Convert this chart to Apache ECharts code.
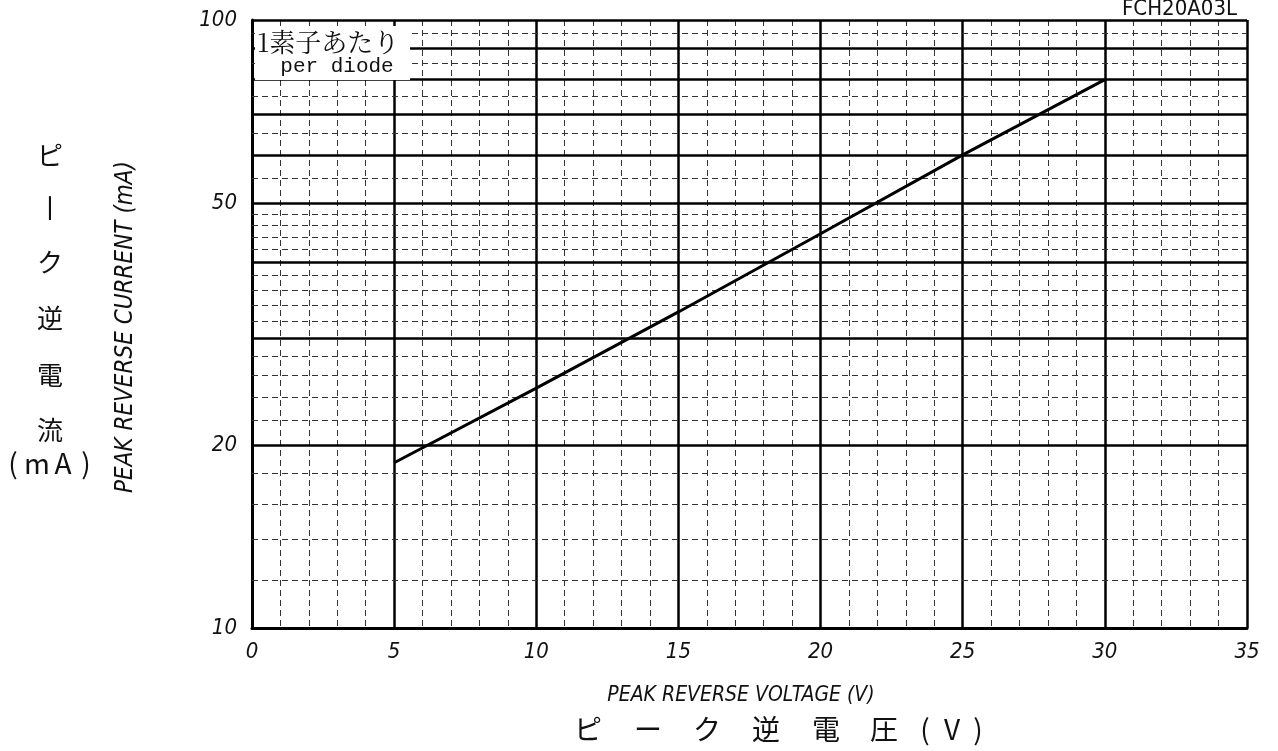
<!DOCTYPE html>
<html>
<head>
<meta charset="utf-8">
<script src="https://cdn.jsdelivr.net/npm/echarts@6/dist/echarts.min.js"></script>
<style>
html,body{margin:0;padding:0;background:#fff;}
#chart{width:1278px;height:751px;}
</style>
</head>
<body>
<div id="chart"></div>
<script>
// ---- data ----
var voltage = [5, 10, 15, 20, 25, 30];
var current = [18.7, 24.8, 33.1, 44.5, 60.0, 79.8];
var majorY = [10, 20, 30, 40, 50, 60, 70, 80, 90, 100];
var minorY = [12, 14, 16, 18, 22, 24, 26, 28, 32, 34, 36, 38, 42, 44, 46, 48, 55, 65, 75, 85, 95];
var yTickLabels = [10, 20, 50, 100];
var xTickLabels = [0, 5, 10, 15, 20, 25, 30, 35];

var NARROW = '"Liberation Sans Narrow", "DejaVu Sans Condensed", "Liberation Sans", sans-serif';
var JP = '"Noto Sans CJK JP", sans-serif';
var chart = echarts.init(document.getElementById('chart'), null, {renderer: 'canvas'});

var graphics = [];
function txt(s, x, y, font, align, z) {
  graphics.push({type: 'text', x: x, y: y, z: z || 50,
    style: {text: s, font: font, fill: '#111', textAlign: align || 'center', textVerticalAlign: 'middle'}});
}
// vertical Japanese y-axis title
var jpY = ['ピ', '丨', 'ク', '逆', '電', '流'];
var jpYpos = [155, 208, 262, 318, 375, 430];
jpY.forEach(function (c, i) { txt(c, 50, jpYpos[i], '26px ' + JP); });
var mA = ['(', 'm', 'A', ')'];
var mAx = [13, 37, 63, 86];
mA.forEach(function (c, i) { txt(c, mAx[i], 463, '28px ' + JP); });
// English y-axis title
graphics.push({type: 'text', x: 126, y: 327, rotation: Math.PI / 2, z: 50,
  style: {text: 'PEAK REVERSE CURRENT (mA)', font: 'italic 24px ' + NARROW, fill: '#111',
    textAlign: 'center', textVerticalAlign: 'middle'}});
// x-axis titles
txt('PEAK REVERSE VOLTAGE (V)', 741, 696, 'italic 21px ' + NARROW);
var jpX = ['ピ', 'ー', 'ク', '逆', '電', '圧', '(', 'V', ')'];
var jpXpos = [588, 648, 707, 766, 826, 884, 925, 952, 978];
jpX.forEach(function (c, i) { txt(c, jpXpos[i], 729, '28px ' + JP); });
// part number
txt('FCH20A03L', 1237, 9, '22px ' + NARROW, 'right');
// note box
graphics.push({type: 'rect', shape: {x: 255, y: 26, width: 155, height: 54}, z: 60,
  style: {fill: '#fff', stroke: null}});
txt('1素子あたり', 257, 42, '26px "Noto Serif CJK JP", ' + JP, 'left', 61);
txt('per diode', 337, 66, '21px "Liberation Mono", "DejaVu Sans Mono", monospace', 'center', 61);

var option = {
  backgroundColor: '#fff',
  animation: false,
  grid: {left: 252, right: 31, top: 20, bottom: 123, containLabel: false},
  xAxis: {
    type: 'value', min: 0, max: 35, interval: 5,
    axisLine: {show: true, lineStyle: {color: '#000', width: 3}},
    axisTick: {show: false},
    axisLabel: {
      margin: 13, color: '#111', fontSize: 22, fontStyle: 'italic', fontFamily: NARROW,
      formatter: function (v) { return xTickLabels.indexOf(v) >= 0 ? String(v) : ''; }
    },
    splitLine: {show: true, lineStyle: {color: '#000', width: 2.5}},
    minorTick: {show: false, splitNumber: 5},
    minorSplitLine: {show: true, lineStyle: {color: '#333', width: 1, type: [6, 4]}}
  },
  yAxis: {
    type: 'log', logBase: 10, min: 10, max: 100,
    axisLine: {show: true, lineStyle: {color: '#000', width: 3}},
    axisTick: {show: false},
    axisLabel: {show: false},
    splitLine: {show: false}
  },
  series: [
    {
      type: 'line', name: 'minor', data: [], silent: true,
      markLine: {
        silent: true, symbol: 'none', animation: false,
        label: {show: false},
        lineStyle: {color: '#333', width: 1, type: [6, 4]},
        data: minorY.map(function (v) { return {yAxis: v}; })
      }
    },
    {
      type: 'line', name: 'major', data: [], silent: true,
      markLine: {
        silent: true, symbol: 'none', animation: false,
        lineStyle: {color: '#000', width: 2.5, type: 'solid'},
        label: {
          show: true, position: 'start', distance: 15,
          color: '#111', fontSize: 22, fontStyle: 'italic', fontFamily: NARROW,
          formatter: function (p) { return yTickLabels.indexOf(p.value) >= 0 ? String(p.value) : ''; }
        },
        data: majorY.map(function (v) { return {yAxis: v}; })
      }
    },
    {
      type: 'line', name: 'IRP',
      data: voltage.map(function (v, i) { return [v, current[i]]; }),
      showSymbol: false, symbol: 'none', z: 10,
      lineStyle: {color: '#000', width: 3}
    }
  ],
  graphic: graphics
};
chart.setOption(option);
</script>
</body>
</html>
